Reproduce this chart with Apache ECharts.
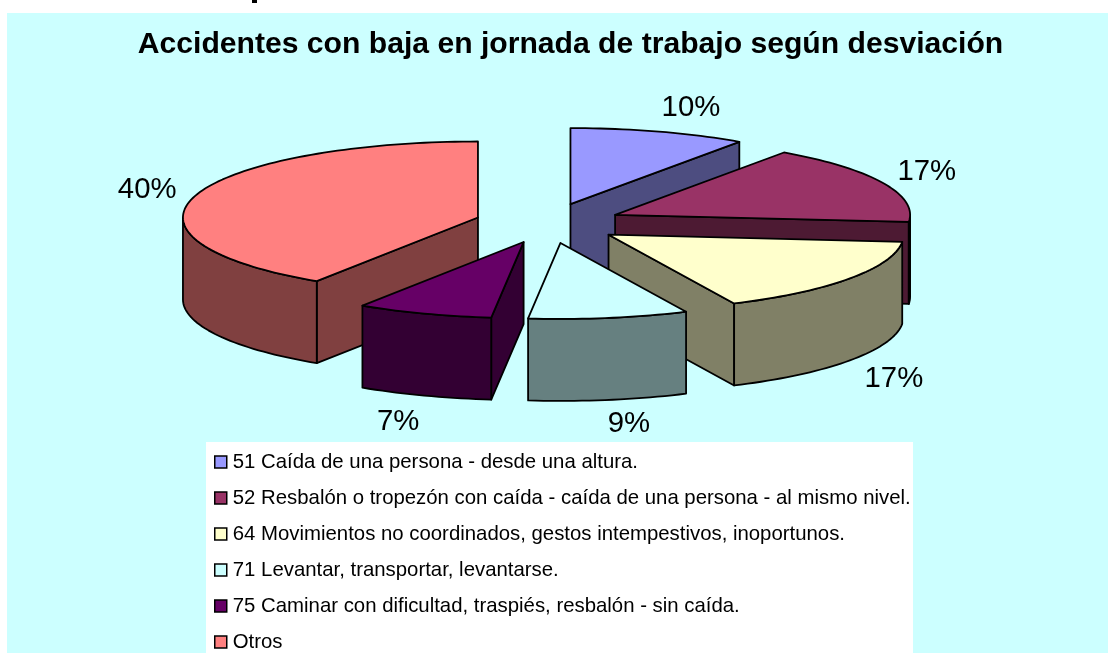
<!DOCTYPE html>
<html><head><meta charset="utf-8">
<style>html,body{margin:0;padding:0;background:#fff}#c{width:1108px;height:653px}</style>
<script src="https://cdn.jsdelivr.net/npm/echarts@6/dist/echarts.min.js"></script>
</head><body><div id="c"></div>
<script>
// ---- data ----
const categories = [
  '51 Caída de una persona - desde una altura.',
  '52 Resbalón o tropezón con caída - caída de una persona - al mismo nivel.',
  '64 Movimientos no coordinados, gestos intempestivos, inoportunos.',
  '71 Levantar, transportar, levantarse.',
  '75 Caminar con dificultad, traspiés, resbalón - sin caída.',
  'Otros'
];
const percentValues = [9.7, 16.8, 16.5, 8.75, 7.45, 40.49];
const topColors  = ['#9999FF', '#993366', '#FFFFCC', '#CCFFFF', '#660066', '#FF8080'];
const wallColors = ['#4D4D80', '#4D1A33', '#808066', '#668080', '#330033', '#804040'];
const titleText = 'Accidentes con baja en jornada de trabajo según desviación';

// ---- layout of the tilted, exploded pie ----
const pie = {cx: 548.4, cy: 223.2, rx: 295, ry: 76, ex: 73.5, ey: 20, h: 82};
const labelNudge = [[32,-24],[44,-11],[44,101],[20,106],[-26,108],[-48,-6]];
const paintOrder = [0, 1, 2, 5, 4, 3];
const rad = d => d * Math.PI / 180;

// Cumulative angles, clockwise from 12 o'clock; the last slice closes the circle.
const starts = [], ends = [];
percentValues.reduce((acc, v, i) => {
  starts[i] = acc * 3.6;
  ends[i] = i === percentValues.length - 1 ? 360 : (acc + v) * 3.6;
  return acc + v;
}, 0);

function renderSlice(i) {
  const a0 = starts[i], a1 = ends[i], mid = (a0 + a1) / 2;
  const ax = pie.cx + pie.ex * Math.sin(rad(mid));
  const ay = pie.cy - pie.ey * Math.cos(rad(mid));
  const pt = (a, dz) => [ax + pie.rx * Math.sin(rad(a)), ay - pie.ry * Math.cos(rad(a)) + (dz || 0)];
  const arc = (from, to, dz) => {
    const out = [], n = Math.max(2, Math.ceil((to - from) / 1.5));
    for (let k = 0; k <= n; k++) out.push(pt(from + (to - from) * k / n, dz));
    return out;
  };
  const stroke = {stroke: '#000', lineWidth: 1.8, lineJoin: 'round'};
  const poly = (points, fill) => ({type: 'polygon', shape: {points}, style: Object.assign({fill}, stroke), silent: true});
  const children = [];
  const wall = wallColors[i];
  // radial walls that face the viewer
  if (Math.sin(rad(a1)) > 0.001) {
    const e = pt(a1, 0), e2 = pt(a1, pie.h);
    children.push(poly([[ax, ay], e, e2, [ax, ay + pie.h]], wall));
  }
  if (Math.sin(rad(a0)) < -0.001) {
    const e = pt(a0, 0), e2 = pt(a0, pie.h);
    children.push(poly([[ax, ay], e, e2, [ax, ay + pie.h]], wall));
  }
  // outer wall, front half only
  const f0 = Math.max(a0, 90), f1 = Math.min(a1, 270);
  if (f1 > f0) {
    children.push(poly(arc(f0, f1, 0).concat(arc(f0, f1, pie.h).reverse()), wall));
  }
  // top face
  children.push(poly([[ax, ay]].concat(arc(a0, a1, 0)), topColors[i]));
  // percentage label
  const m = pt(mid, 0);
  children.push({
    type: 'text', silent: true,
    style: {
      x: m[0] + labelNudge[i][0], y: m[1] + labelNudge[i][1],
      text: Math.round(percentValues[i]) + '%',
      font: '29.33px "Liberation Sans", Arial, sans-serif',
      fill: '#000', align: 'center', verticalAlign: 'middle'
    }
  });
  return {type: 'group', children};
}

const series = paintOrder.map(i => ({
  type: 'custom',
  name: categories[i],
  coordinateSystem: 'none',
  data: [[percentValues[i]]],
  itemStyle: {color: topColors[i]},
  renderItem: () => renderSlice(i),
  silent: true,
  z: 3
}));

const chart = echarts.init(document.getElementById('c'), null, {renderer: 'canvas'});
chart.setOption({
  animation: false,
  backgroundColor: '#fff',
  title: {
    text: titleText, left: 565.5, top: 25, textAlign: 'center',
    textStyle: {fontFamily: '"Liberation Sans", Arial, sans-serif', fontWeight: 'bold', fontSize: 30.13, color: '#000'}
  },
  legend: {
    data: categories, orient: 'vertical', left: 214, top: 452, padding: 0,
    itemWidth: 12, itemHeight: 12, itemGap: 16, icon: 'rect', selectedMode: false,
    itemStyle: {borderColor: '#000', borderWidth: 1.5},
    textStyle: {fontFamily: '"Liberation Sans", Arial, sans-serif', fontSize: 20.37, color: '#000', padding: [0,0,0,1]}
  },
  graphic: [
    {type: 'rect', z: 0, silent: true, shape: {x: 7, y: 13, width: 1101, height: 640}, style: {fill: '#CCFFFF'}},
    {type: 'rect', z: 1, silent: true, shape: {x: 206, y: 442, width: 707, height: 211}, style: {fill: '#fff'}},
    {type: 'rect', z: 1, silent: true, shape: {x: 252, y: 0, width: 5, height: 3}, style: {fill: '#000'}}
  ],
  series
});
</script></body></html>
